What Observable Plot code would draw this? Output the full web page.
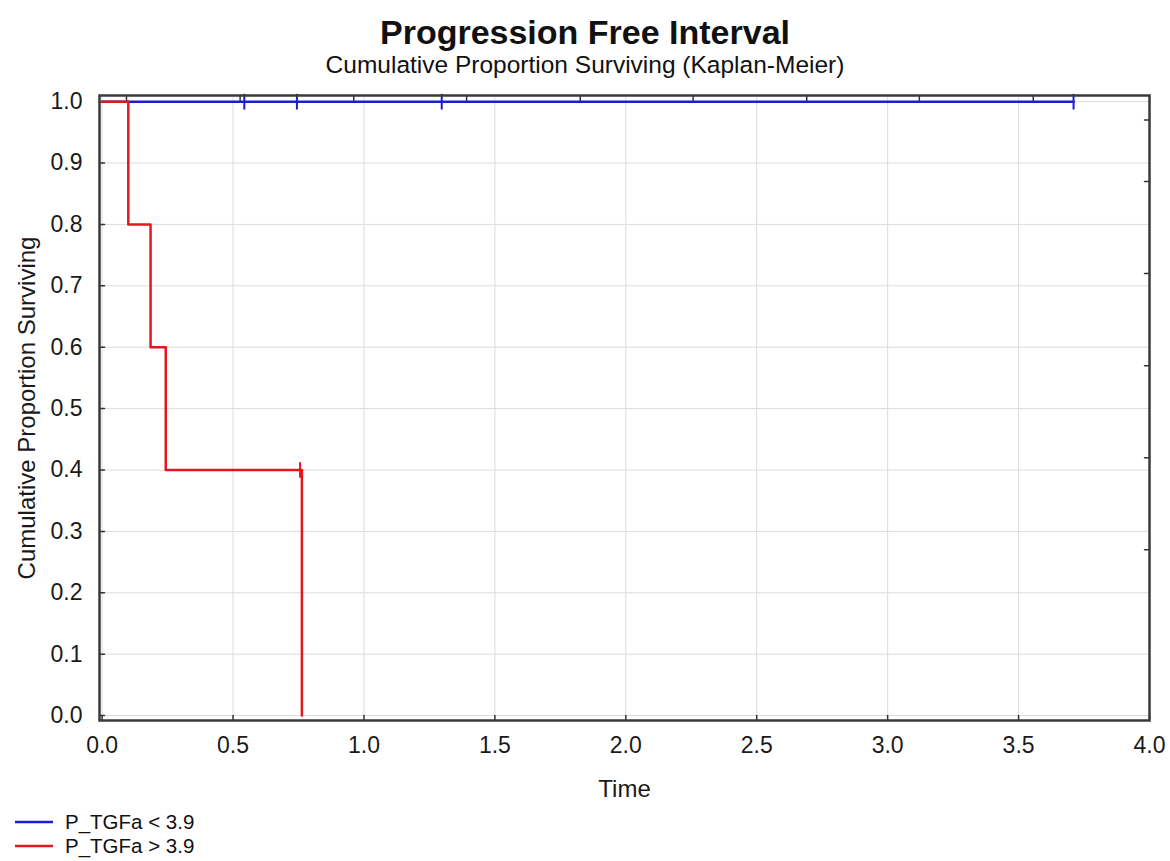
<!DOCTYPE html>
<html>
<head>
<meta charset="utf-8">
<script src="https://cdn.jsdelivr.net/npm/d3@7"></script>
<script src="https://cdn.jsdelivr.net/npm/@observablehq/plot@0.6"></script>
<style>
  html, body { margin: 0; padding: 0; background: #fff; }
  body { width: 1170px; height: 861px; overflow: hidden; font-family: "Liberation Sans", Arial, sans-serif; color: #111; }
  #head { height: 80px; text-align: center; padding-top: 13px; box-sizing: border-box; }
  #title { font-weight: bold; font-size: 34px; line-height: 38px; }
  #subtitle { font-size: 24.5px; line-height: 28px; margin-top: 0px; }
  #legend { padding-left: 15px; font-size: 20.5px; }
  .row { height: 24px; line-height: 24px; display: flex; align-items: center; }
  .row svg { margin-right: 12px; }
</style>
</head>
<body>
<div id="head">
  <div id="title">Progression Free Interval</div>
  <div id="subtitle">Cumulative Proportion Surviving (Kaplan-Meier)</div>
</div>
<div id="chart"></div>
<div id="legend"></div>
<script>
// ---- data ----
const seriesNames = ["P_TGFa < 3.9", "P_TGFa > 3.9"];
const seriesColors = ["#1c1cd6", "#e3171d"];

const blueTimes = [0, 3.71];
const blueSurv = [1.0, 1.0];
const blueCensorTimes = [0.543, 0.744, 1.297, 3.71];
const blueCensorSurv = [1.0, 1.0, 1.0, 1.0];

const redTimes = [0, 0.100, 0.185, 0.243, 0.763];
const redSurv = [1.0, 0.8, 0.6, 0.4, 0.0];
const redCensorTimes = [0.756];
const redCensorSurv = [0.4];

const xTicks = [0, 0.5, 1.0, 1.5, 2.0, 2.5, 3.0, 3.5, 4.0];
const yTicks = [0, 0.1, 0.2, 0.3, 0.4, 0.5, 0.6, 0.7, 0.8, 0.9, 1.0];
const topTicks = [0.093, 0.527, 0.961, 1.392, 1.826, 2.257, 2.691, 3.121, 3.556];
const rightTicks = [0.97, 0.87, 0.72, 0.57, 0.42, 0.27];

// ---- tables built from the arrays ----
const curves = [
  ...blueTimes.map((t, i) => ({group: seriesNames[0], t, s: blueSurv[i]})),
  ...redTimes.map((t, i) => ({group: seriesNames[1], t, s: redSurv[i]}))
];
const censors = [
  ...blueCensorTimes.map((t, i) => ({group: seriesNames[0], t, s: blueCensorSurv[i]})),
  ...redCensorTimes.map((t, i) => ({group: seriesNames[1], t, s: redCensorSurv[i]}))
];

const lineShape = { draw(context, l) { context.moveTo(0, 0); context.lineTo(0, -l); } };
const fmt = d3.format(".1f");
const blank = () => "";

const chart = Plot.plot({
  width: 1170,
  height: 730,
  marginTop: 15,
  marginLeft: 99,
  marginRight: 21,
  marginBottom: 90,
  style: { fontFamily: "'Liberation Sans', Arial, sans-serif", fontSize: "23px", color: "#1a1a1a", background: "#fff" },
  x: { domain: [-0.01, 4.0] },
  y: { domain: [-0.008, 1.01] },
  color: { domain: seriesNames, range: seriesColors },
  marks: [
    Plot.gridX(xTicks, { stroke: "#dcdcdc", strokeOpacity: 1, strokeWidth: 1 }),
    Plot.gridY(yTicks, { stroke: "#dcdcdc", strokeOpacity: 1, strokeWidth: 1 }),
    // inward ticks on the four sides
    Plot.vector(xTicks, { x: d => d, frameAnchor: "bottom", length: 5, rotate: 0, anchor: "start", shape: lineShape, stroke: "#333", strokeWidth: 1.5 }),
    Plot.vector(yTicks, { y: d => d, frameAnchor: "left", length: 5, rotate: 90, anchor: "start", shape: lineShape, stroke: "#333", strokeWidth: 1.5 }),
    Plot.vector(topTicks, { x: d => d, frameAnchor: "top", length: 5, rotate: 180, anchor: "start", shape: lineShape, stroke: "#333", strokeWidth: 1.5 }),
    Plot.vector(rightTicks, { y: d => d, frameAnchor: "right", length: 5, rotate: -90, anchor: "start", shape: lineShape, stroke: "#333", strokeWidth: 1.5 }),
    // survival curves
    Plot.line(curves, { x: "t", y: "s", z: "group", stroke: "group", curve: "step-after", strokeWidth: 2.5 }),
    // censor marks
    Plot.vector(censors, { x: "t", y: "s", stroke: "group", length: 14, rotate: 0, anchor: "middle", shape: lineShape, strokeWidth: 2 }),
    Plot.frame({ stroke: "#3a3a3a", strokeWidth: 2.5 }),
    // tick labels
    Plot.axisX(xTicks, { tickSize: 0, tickPadding: 16, tickFormat: fmt, label: null, fontSize: 23 }),
    Plot.axisY(yTicks, { tickSize: 0, tickPadding: 17, tickFormat: fmt, label: null, fontSize: 23 }),
    // axis titles
    Plot.axisX(xTicks, { tickSize: 0, tickFormat: blank, label: "Time", labelAnchor: "center", labelArrow: "none", labelOffset: 76, fontSize: 24 }),
    Plot.axisY(yTicks, { tickSize: 0, tickFormat: blank, label: "Cumulative Proportion Surviving", labelAnchor: "center", labelArrow: "none", labelOffset: 82, fontSize: 24 })
  ]
});
document.getElementById("chart").appendChild(chart);

// legend
const legend = document.getElementById("legend");
seriesNames.forEach((name, i) => {
  const row = document.createElement("div");
  row.className = "row";
  row.innerHTML = `<svg width="38" height="4"><line x1="0" y1="2" x2="38" y2="2" stroke="${seriesColors[i]}" stroke-width="2.5"/></svg><span>${name.replace(/</g, "&lt;").replace(/>/g, "&gt;")}</span>`;
  legend.appendChild(row);
});
</script>
</body>
</html>
